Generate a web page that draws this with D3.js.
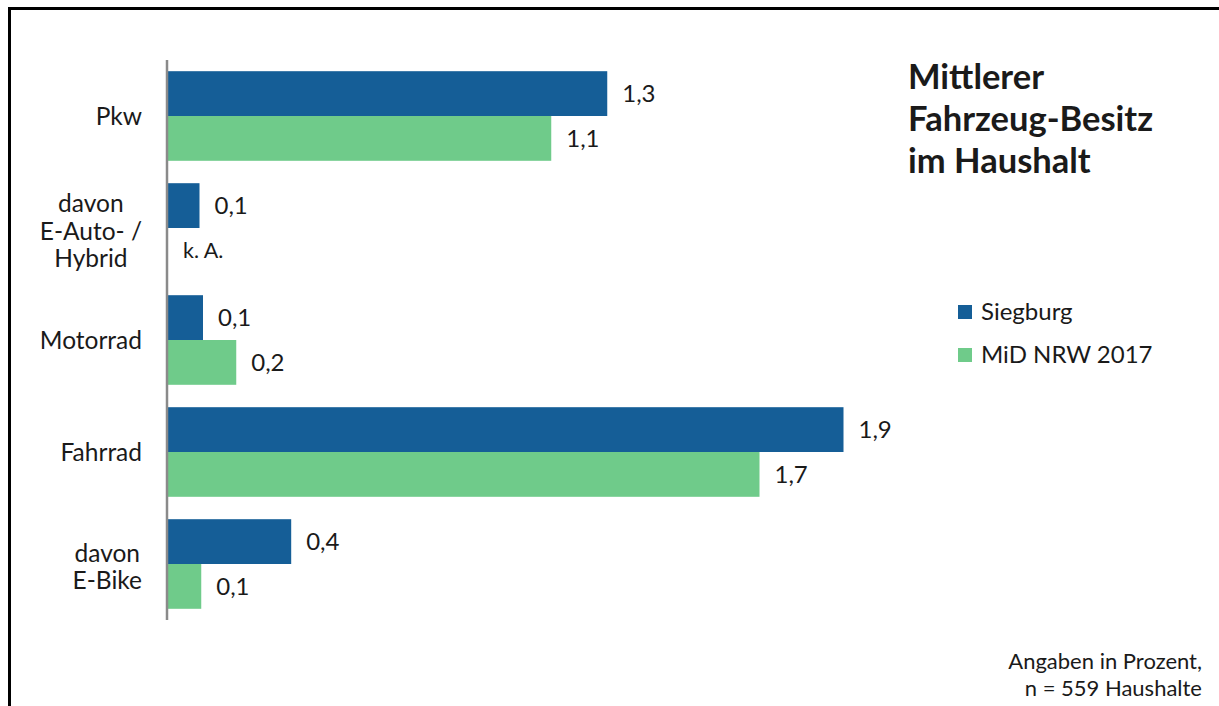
<!DOCTYPE html>
<html><head><meta charset="utf-8">
<script src="https://cdn.jsdelivr.net/npm/d3@7"></script>
<style>
body{margin:0;background:#fff;}
text{font-family:Lato,"Open Sans",sans-serif;fill:#1a1a1a;}
</style></head>
<body>
<svg id="chart" width="1219" height="706"></svg>
<script>
const categories = [["Pkw"], ["davon","E-Auto- /","Hybrid"], ["Motorrad"], ["Fahrrad"], ["davon","E-Bike"]];
const seriesNames = ["Siegburg", "MiD NRW 2017"];
const siegburg = [1.255, 0.09, 0.10, 1.93, 0.352];
const midNrw = [1.095, null, 0.195, 1.69, 0.095];
const seriesColors = ["#155E97", "#6FCB8A"];
const titleLines = ["Mittlerer", "Fahrzeug-Besitz", "im Haushalt"];
const noteLines = ["Angaben in Prozent,", "n = 559 Haushalte"];
const missingLabel = "k. A.";

const svg = d3.select("#chart");
const catKeys = categories.map((c,i)=>"c"+i);
const x = d3.scaleLinear().domain([0, 2.5]).range([168, 168 + 2.5*350]);
const y = d3.scaleBand().domain(catKeys).range([60, 620]).paddingInner(0.2).paddingOuter(0.1);
const ys = d3.scaleBand().domain([0,1]).range([0, y.bandwidth()]);

// border
svg.append("path").attr("d","M9.5,720 L9.5,8.5 L1230,8.5").attr("fill","none").attr("stroke","#000").attr("stroke-width",3);

const series = [siegburg, midNrw];
const fmt = v => v.toFixed(1).replace(".", ",");

series.forEach((vals, si) => {
  const g = svg.append("g");
  vals.forEach((v, ci) => {
    const yc = y(catKeys[ci]) + ys(si);
    if (v != null) {
      g.append("rect").attr("x", x(0)).attr("y", yc).attr("width", x(v)-x(0)).attr("height", ys.bandwidth()).attr("fill", seriesColors[si]);
      g.append("text").attr("x", x(v)+15).attr("y", yc + ys.bandwidth()/2).attr("dy","0.35em").attr("font-size",24).text(fmt(v));
    } else {
      g.append("text").attr("x", x(0)+15).attr("y", yc + ys.bandwidth()/2).attr("dy","0.35em").attr("font-size",21.5).text(missingLabel);
    }
  });
});

// axis line
svg.append("line").attr("x1",167).attr("x2",167).attr("y1",60).attr("y2",620).attr("stroke","#8a8a8a").attr("stroke-width",2.5);

// category labels
categories.forEach((lines, ci) => {
  const cy = y(catKeys[ci]) + y.bandwidth()/2 + (lines.length > 1 ? 3 : 0);
  const lh = 27.5;
  const t = svg.append("text").attr("font-size",24.5).attr("text-anchor","middle");
  const spans = lines.map((l, li) => t.append("tspan").attr("x",0).attr("y", cy + (li - (lines.length-1)/2)*lh).attr("dy","0.35em").text(l));
  const maxW = d3.max(spans, s => s.node().getComputedTextLength());
  spans.forEach(s => s.attr("x", 142 - maxW/2));
});

// title
const tt = svg.append("text").attr("font-size",34.5).attr("font-weight","bold");
titleLines.forEach((l,i)=>tt.append("tspan").attr("x",908).attr("y",89 + i*42).text(l));

// legend
seriesNames.forEach((n,i)=>{
  const cy = 312 + i*43;
  svg.append("rect").attr("x",958).attr("y",cy-7).attr("width",14).attr("height",14).attr("fill",seriesColors[i]);
  svg.append("text").attr("x",981).attr("y",cy).attr("dy","0.35em").attr("font-size",24).text(n);
});

// note
const nt = svg.append("text").attr("font-size",22).attr("text-anchor","end");
noteLines.forEach((l,i)=>nt.append("tspan").attr("x",1202).attr("y",669 + i*27).text(l));
</script>
</body></html>
